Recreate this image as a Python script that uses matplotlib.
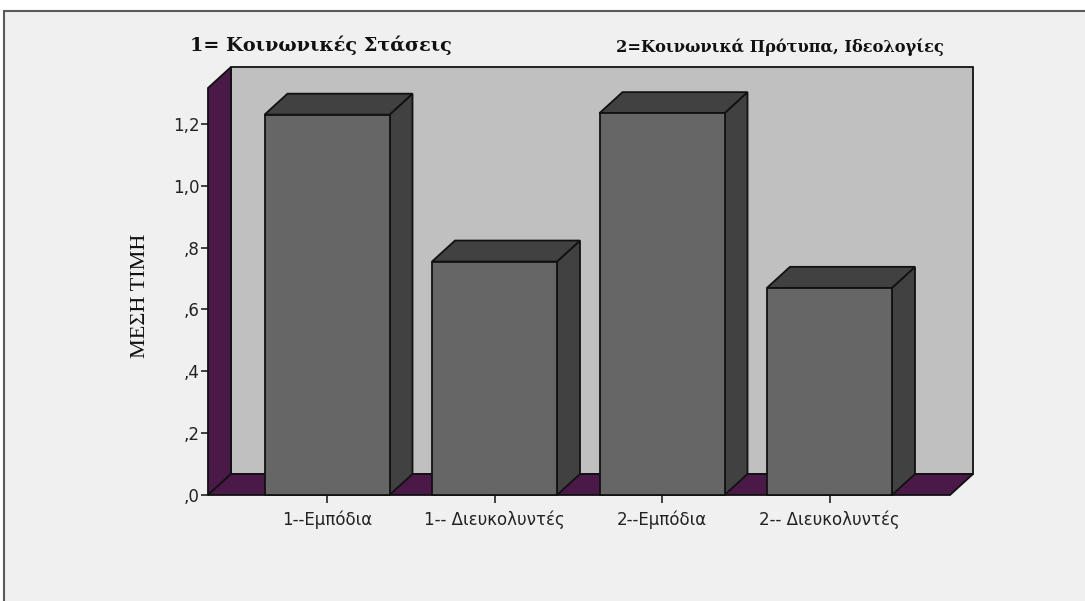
import matplotlib
matplotlib.use("Agg")
import matplotlib.pyplot as plt
from matplotlib.patches import Polygon, Rectangle

# --- data ---
categories = ["1--Εμπόδια", "1-- Διευκολυντές", "2--Εμπόδια", "2-- Διευκολυντές"]
mean_values = [1.23, 0.755, 1.235, 0.67]
ytick_values = [0.0, 0.2, 0.4, 0.6, 0.8, 1.0, 1.2]
ytick_labels = [",0", ",2", ",4", ",6", ",8", "1,0", "1,2"]
title_left = "1= Κοινωνικές Στάσεις"
title_right = "2=Κοινωνικά Πρότυπα, Ιδεολογίες"
ylabel = "ΜΕΣΗ ΤΙΜΗ"

# --- style ---
W, H = 1085, 601
BG = "#f0f0f0"
WALL = "#4a1947"
BACK = "#c0c0c0"
FRONT = "#666666"
SIDE = "#414141"
EDGE = "#111111"

fig = plt.figure(figsize=(W / 100, H / 100), dpi=100, facecolor="white")

# outer frame
frame = Rectangle((4 / W, -0.01), 1.02, (H - 11) / H + 0.01, transform=fig.transFigure,
                  facecolor=BG, edgecolor="#5a5a5a", linewidth=1.5, zorder=-5)
fig.patches.append(frame)

# front plane of the 3D box, in pixels
px_left, px_right, px_bottom, px_top = 208, 950, 495, 88
ax = fig.add_axes([px_left / W, (H - px_bottom) / H,
                   (px_right - px_left) / W, (px_bottom - px_top) / H])
ax.set_zorder(2)
ax.patch.set_visible(False)
for s in ax.spines.values():
    s.set_visible(False)

px_per_unit = 309.2
ymax = (px_bottom - px_top) / px_per_unit
centers_px = [327, 494.5, 662, 829.5]
step_px = (centers_px[-1] - centers_px[0]) / 3
xl = -(centers_px[0] - px_left) / step_px
xr = 3 + (px_right - centers_px[-1]) / step_px
ax.set_xlim(xl, xr)
ax.set_ylim(0, ymax)

# depth offset (pixels -> data units)
ddx = 23 / step_px
ddy = 21 / px_per_unit
lw = 1.3

x = list(range(len(categories)))

# back wall, left wall, floor
ax.add_patch(Polygon([(xl + ddx, ddy), (xr + ddx, ddy), (xr + ddx, ymax + ddy), (xl + ddx, ymax + ddy)],
                     closed=True, facecolor=BACK, edgecolor=EDGE, linewidth=lw, clip_on=False, zorder=1))
ax.add_patch(Polygon([(xl, 0), (xl, ymax), (xl + ddx, ymax + ddy), (xl + ddx, ddy)],
                     closed=True, facecolor=WALL, edgecolor=EDGE, linewidth=lw, clip_on=False, zorder=2))
ax.add_patch(Polygon([(xl, 0), (xr, 0), (xr + ddx, ddy), (xl + ddx, ddy)],
                     closed=True, facecolor=WALL, edgecolor=EDGE, linewidth=lw, clip_on=False, zorder=2))

# bars: front faces via bar(), side and top faces as polygons
bar_w = 125 / step_px
bars = ax.bar(x, mean_values, width=bar_w, color=FRONT, edgecolor=EDGE, linewidth=lw, zorder=5, clip_on=False)
for xi, v in zip(x, mean_values):
    x0, x1 = xi - bar_w / 2, xi + bar_w / 2
    ax.add_patch(Polygon([(x1, 0), (x1 + ddx, ddy), (x1 + ddx, v + ddy), (x1, v)],
                         closed=True, facecolor=SIDE, edgecolor=EDGE, linewidth=lw, clip_on=False, zorder=4))
    ax.add_patch(Polygon([(x0, v), (x1, v), (x1 + ddx, v + ddy), (x0 + ddx, v + ddy)],
                         closed=True, facecolor=SIDE, edgecolor=EDGE, linewidth=lw, clip_on=False, zorder=4))

ax.set_yticks(ytick_values)
ax.set_yticklabels(ytick_labels)
ax.set_xticks(x)
ax.set_xticklabels(categories)
for lab in ax.get_yticklabels() + ax.get_xticklabels():
    lab.set_fontfamily(["DejaVu Sans"])
    lab.set_fontsize(12)
    lab.set_color("#222222")
ax.tick_params(axis="y", length=5, width=1.2, color="#222222", pad=1)
ax.tick_params(axis="x", length=6, width=1.2, color="#222222", pad=5)

serif = ["DejaVu Serif"]
fig.text(190 / W, 1 - 45 / H, title_left, family=serif, weight="bold", size=13.9,
         ha="left", va="center", color="#111111")
fig.text(616 / W, 1 - 47 / H, title_right, family=serif, weight="bold", size=11.7,
         ha="left", va="center", color="#111111")
fig.text(141 / W, 1 - 296 / H, ylabel, family=["Liberation Serif"], size=16, rotation=90,
         ha="center", va="center", color="#111111")

fig.savefig("out.png", dpi=100, facecolor="white")
